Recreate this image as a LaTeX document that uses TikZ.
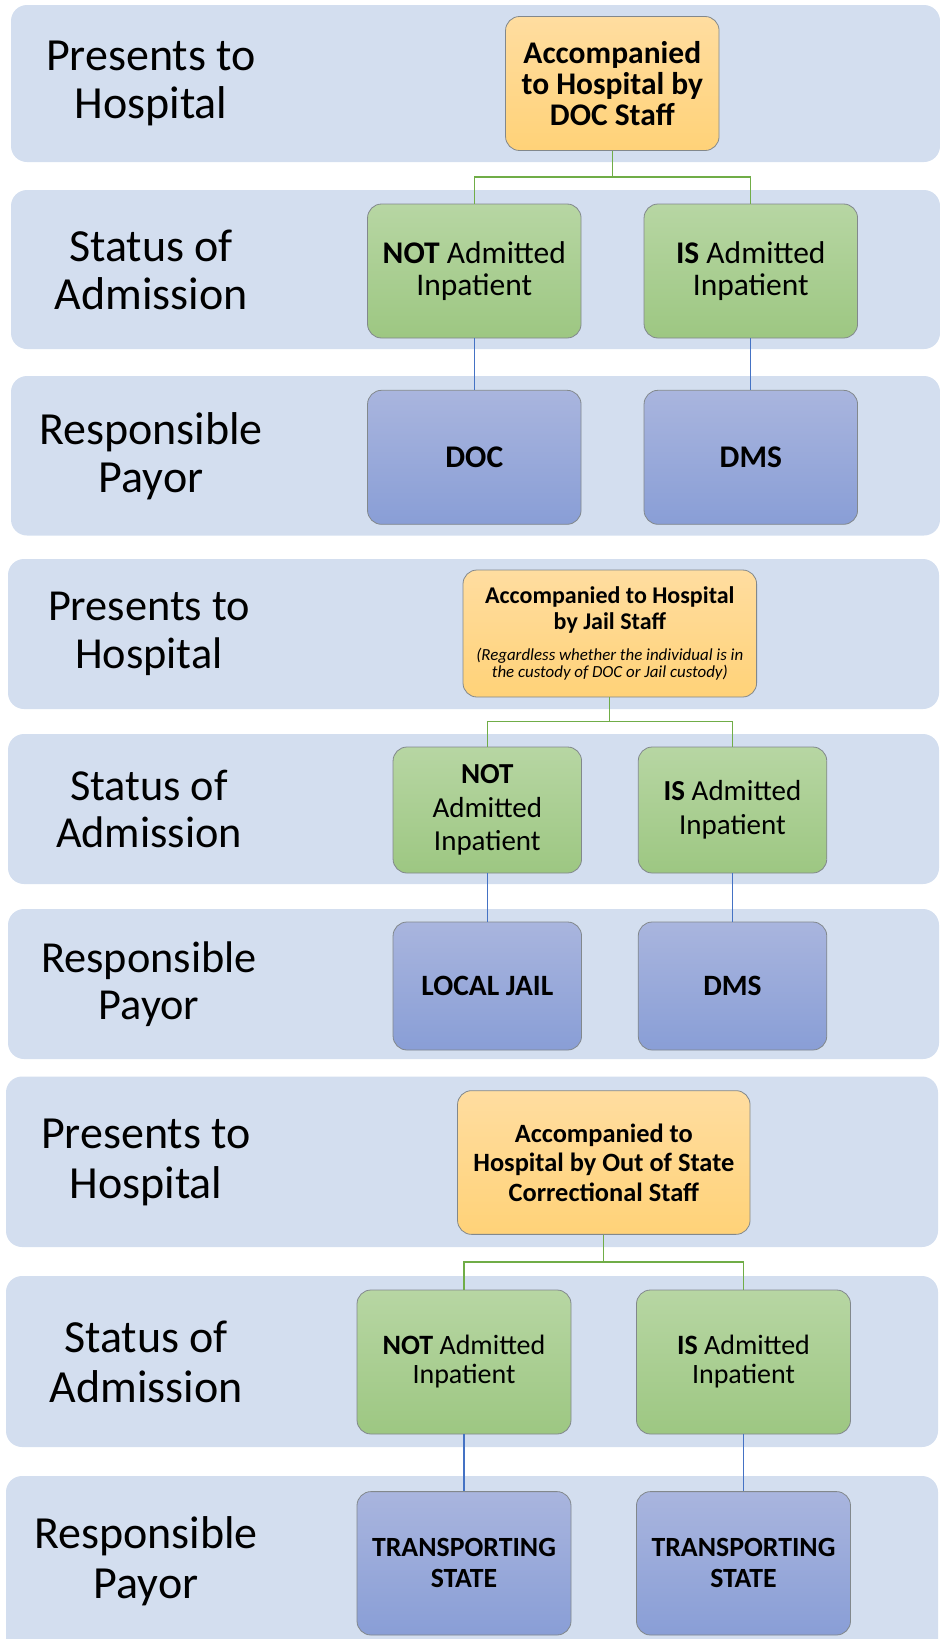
\documentclass[tikz,border=0pt]{standalone}
\usepackage{fontspec}
\setmainfont{Carlito}

\definecolor{bandfill}{RGB}{211,222,239}
\definecolor{orangetop}{RGB}{255,221,160}
\definecolor{orangebot}{RGB}{255,210,120}
\definecolor{greentop}{RGB}{183,214,163}
\definecolor{greenbot}{RGB}{157,199,130}
\definecolor{bluetop}{RGB}{169,181,222}
\definecolor{bluebot}{RGB}{137,158,214}
\definecolor{boxline}{RGB}{130,136,140}
\definecolor{linegreen}{RGB}{112,173,71}
\definecolor{lineblue}{RGB}{68,114,196}

\newcommand{\fsz}[2]{\fontsize{#1}{#2}\selectfont}

\begin{document}
\begin{tikzpicture}
          [x=1pt,y=-1pt,
           band/.style={fill=bandfill, rounded corners=16pt},
           rowlabel/.style={align=center, inner sep=0pt},
           box/.style={draw=boxline, line width=0.8pt, rounded corners=14pt, align=center, inner sep=0pt},
           presentbox/.style={box, top color=orangetop, bottom color=orangebot},
           statusbox/.style={box, top color=greentop, bottom color=greenbot},
           payorbox/.style={box, top color=bluetop, bottom color=bluebot},
           greenline/.style={draw=linegreen, line width=1.3pt},
           blueline/.style={draw=lineblue, line width=1.3pt}]
        \useasboundingbox (0,0) rectangle (940,1639);

        % bands
        \fill[band] (11,5) rectangle (940,162);
        \fill[band] (11,190) rectangle (940,349);
        \fill[band] (11,376) rectangle (940,535.5);
        \fill[band] (8,559) rectangle (939,709);
        \fill[band] (8,734) rectangle (939,884);
        \fill[band] (8,909) rectangle (939,1059);
        \fill[band] (6,1076.5) rectangle (938,1247);
        \fill[band] (6,1276) rectangle (938,1447);
        \fill[band] (6,1476) rectangle (938,1670);

        % DOC staff
        \node[rowlabel, font=\fsz{46}{48}] (lblhosp1) at (151,83.5) {Presents to\\Hospital};
        \node[rowlabel, font=\fsz{46}{48}] (lbladm1) at (151,269.5) {Status of\\Admission};
        \node[rowlabel, font=\fsz{46}{48}] (lblpay1) at (151,456) {Responsible\\Payor};
        \node[presentbox, minimum width=213.5, minimum height=134, font={\fsz{31.5}{31}\bfseries}] (hosp1) at (612.3,83.5) {Accompanied\\to Hospital by\\DOC Staff};
        \node[statusbox, minimum width=213.5, minimum height=134, font={\fsz{31.5}{32}}] (adm1no) at (474.3,271) {{\bfseries NOT} Admitted\\Inpatient};
        \node[statusbox, minimum width=213.5, minimum height=134, font={\fsz{31.5}{32}}] (adm1yes) at (750.8,271) {{\bfseries IS} Admitted\\Inpatient};
        \node[payorbox, minimum width=213.5, minimum height=134, font={\fsz{31.5}{32}\bfseries}] (pay1no) at (474.3,457.3) {DOC};
        \node[payorbox, minimum width=213.5, minimum height=134, font={\fsz{31.5}{32}\bfseries}] (pay1yes) at (750.8,457.3) {DMS};
        \coordinate (fork1) at (0,177);

        % Jail staff
        \node[rowlabel, font=\fsz{44.3}{47.5}] (lblhosp2) at (149,634) {Presents to\\Hospital};
        \node[rowlabel, font=\fsz{44.3}{47.5}] (lbladm2) at (149,809) {Status of\\Admission};
        \node[rowlabel, font=\fsz{44.3}{47.5}] (lblpay2) at (149,984) {Responsible\\Payor};
        \node[presentbox, minimum width=293.6, minimum height=127, font={\fsz{24}{26}\bfseries}] (hosp2) at (609.8,633.5)
          {Accompanied to Hospital\\by Jail Staff\\[4.5pt]{\fsz{16.9}{17}\mdseries\itshape (Regardless whether the individual is in}\\[-9pt]{\fsz{16.9}{17}\mdseries\itshape the custody of DOC or Jail custody)}};
        \node[statusbox, minimum width=188.5, minimum height=126, font={\fsz{29}{33.5}}] (adm2no) at (487.3,810) {{\bfseries NOT}\\Admitted\\Inpatient};
        \node[statusbox, minimum width=188.5, minimum height=126, font={\fsz{29}{33.5}}] (adm2yes) at (732.5,810) {{\bfseries IS} Admitted\\Inpatient};
        \node[payorbox, minimum width=188.5, minimum height=128, font={\fsz{29.5}{32}\bfseries}] (pay2no) at (487.3,986) {LOCAL JAIL};
        \node[payorbox, minimum width=188.5, minimum height=128, font={\fsz{29.5}{32}\bfseries}] (pay2yes) at (732.5,986) {DMS};
        \coordinate (fork2) at (0,721.5);

        % Out of state staff
        \node[rowlabel, font=\fsz{46}{50}] (lblhosp3) at (146,1162) {Presents to\\Hospital};
        \node[rowlabel, font=\fsz{46}{50}] (lbladm3) at (146,1361.5) {Status of\\Admission};
        \node[rowlabel, font=\fsz{46}{50}] (lblpay3) at (146,1561) {Responsible\\Payor};
        \node[presentbox, minimum width=292.5, minimum height=143.7, font={\fsz{26.4}{29.5}\bfseries}] (hosp3) at (603.8,1162.5) {Accompanied to\\Hospital by Out of State\\Correctional Staff};
        \node[statusbox, minimum width=214, minimum height=144, font={\fsz{28}{29}}] (adm3no) at (464,1362) {{\bfseries NOT} Admitted\\Inpatient};
        \node[statusbox, minimum width=214, minimum height=144, font={\fsz{28}{29}}] (adm3yes) at (743.5,1362) {{\bfseries IS} Admitted\\Inpatient};
        \node[payorbox, minimum width=214, minimum height=143.4, font={\fsz{27.8}{31}\bfseries}] (pay3no) at (464,1563.3) {TRANSPORTING\\STATE};
        \node[payorbox, minimum width=214, minimum height=143.4, font={\fsz{27.8}{31}\bfseries}] (pay3yes) at (743.5,1563.3) {TRANSPORTING\\STATE};
        \coordinate (fork3) at (0,1262);

        \foreach \src/\dst/\lvl in {hosp1/adm1no/fork1, hosp1/adm1yes/fork1, hosp2/adm2no/fork2, hosp2/adm2yes/fork2, hosp3/adm3no/fork3, hosp3/adm3yes/fork3}
          \draw[greenline] (\src.south) -- (\src.south |- \lvl) -| (\dst.north);

        \foreach \from/\to in {adm1no/pay1no, adm1yes/pay1yes, adm2no/pay2no, adm2yes/pay2yes, adm3no/pay3no, adm3yes/pay3yes}
          \draw[blueline] (\from) -- (\to);
      \end{tikzpicture}
\end{document}
